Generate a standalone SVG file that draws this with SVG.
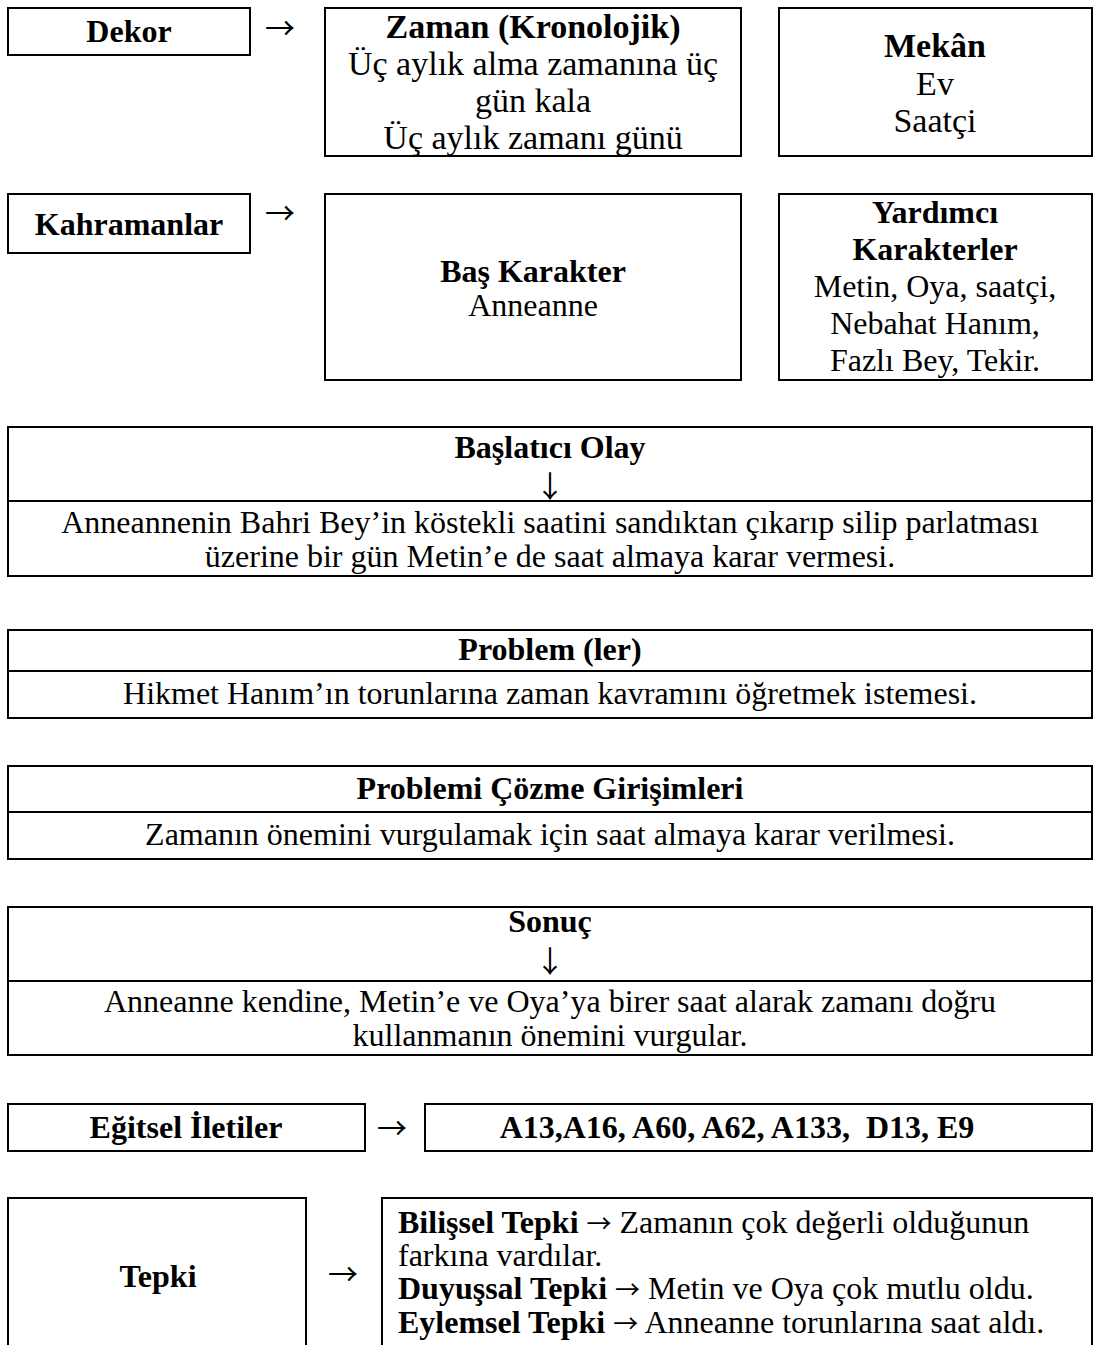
<svg xmlns="http://www.w3.org/2000/svg" width="1094" height="1345" viewBox="0 0 1094 1345">
<style>
  rect, line { fill: #fff; stroke: #000; stroke-width: 2; }
  text { font-family: "Liberation Serif", "Times New Roman", serif; font-size: 32px; fill: #000; }
  .b { font-weight: bold; }
  .c { text-anchor: middle; }
  .big { font-size: 34px; }
  .ar { font-family: "Noto Sans CJK JP", "DejaVu Sans", sans-serif; font-weight: normal; font-size: 30px; }
  .ai { font-family: "Noto Sans CJK JP", "DejaVu Sans", sans-serif; font-weight: normal; font-size: 25px; }
</style>
<rect x="0" y="0" width="1094" height="1345" style="stroke:none;fill:#fff"/>

<g id="dekor">
  <rect x="8" y="8" width="242" height="47"/>
  <text class="b c" x="129" y="42">Dekor</text>
</g>
<g id="zaman">
  <rect x="325" y="8" width="416" height="148"/>
  <text class="b c big" x="533" y="38">Zaman (Kronolojik)</text>
  <text class="c big" x="533" y="75">Üç aylık alma zamanına üç</text>
  <text class="c big" x="533" y="112">gün kala</text>
  <text class="c big" x="533" y="149">Üç aylık zamanı günü</text>
</g>
<g id="mekan">
  <rect x="779" y="8" width="313" height="148"/>
  <text class="b c big" x="935" y="57">Mekân</text>
  <text class="c big" x="935" y="95">Ev</text>
  <text class="c big" x="935" y="132">Saatçi</text>
</g>

<g id="kahramanlar">
  <rect x="8" y="194" width="242" height="59"/>
  <text class="b c" x="129" y="235">Kahramanlar</text>
</g>
<g id="bas-karakter">
  <rect x="325" y="194" width="416" height="186"/>
  <text class="b c" x="533" y="282">Baş Karakter</text>
  <text class="c" x="533" y="316">Anneanne</text>
</g>
<g id="yardimci">
  <rect x="779" y="194" width="313" height="186"/>
  <text class="b c" x="935" y="223">Yardımcı</text>
  <text class="b c" x="935" y="260">Karakterler</text>
  <text class="c" x="935" y="297">Metin, Oya, saatçi,</text>
  <text class="c" x="935" y="334">Nebahat Hanım,</text>
  <text class="c" x="935" y="371">Fazlı Bey, Tekir.</text>
</g>

<g id="baslatici">
  <rect x="8" y="427" width="1084" height="149"/>
  <line x1="8" y1="501" x2="1092" y2="501"/>
  <text class="b c" x="550" y="458">Başlatıcı Olay</text>
  <text class="c ar" x="550" y="497">↓</text>
  <text class="c" x="550" y="533">Anneannenin Bahri Bey’in köstekli saatini sandıktan çıkarıp silip parlatması</text>
  <text class="c" x="550" y="567">üzerine bir gün Metin’e de saat almaya karar vermesi.</text>
</g>

<g id="problem">
  <rect x="8" y="630" width="1084" height="88"/>
  <line x1="8" y1="671" x2="1092" y2="671"/>
  <text class="b c" x="550" y="660">Problem (ler)</text>
  <text class="c" x="550" y="704">Hikmet Hanım’ın torunlarına zaman kavramını öğretmek istemesi.</text>
</g>

<g id="cozme">
  <rect x="8" y="766" width="1084" height="93"/>
  <line x1="8" y1="812" x2="1092" y2="812"/>
  <text class="b c" x="550" y="799">Problemi Çözme Girişimleri</text>
  <text class="c" x="550" y="845">Zamanın önemini vurgulamak için saat almaya karar verilmesi.</text>
</g>

<g id="sonuc">
  <rect x="8" y="907" width="1084" height="148"/>
  <line x1="8" y1="981" x2="1092" y2="981"/>
  <text class="b c" x="550" y="932">Sonuç</text>
  <text class="c ar" x="550" y="972">↓</text>
  <text class="c" x="550" y="1012">Anneanne kendine, Metin’e ve Oya’ya birer saat alarak zamanı doğru</text>
  <text class="c" x="550" y="1046">kullanmanın önemini vurgular.</text>
</g>

<g id="egitsel">
  <rect x="8" y="1104" width="357" height="47"/>
  <text class="b c" x="186" y="1138">Eğitsel İletiler</text>
</g>
<g id="kodlar">
  <rect x="425" y="1104" width="667" height="47"/>
  <text class="b c" x="737" y="1138" xml:space="preserve">A13,A16, A60, A62, A133,  D13, E9</text>
</g>

<g id="tepki">
  <rect x="8" y="1198" width="298" height="170"/>
  <text class="b c" x="158" y="1287">Tepki</text>
</g>
<g id="tepki-detay">
  <rect x="382" y="1198" width="710" height="170"/>
  <text x="398" y="1233"><tspan class="b">Bilişsel Tepki</tspan> <tspan class="ai">→</tspan> Zamanın çok değerli olduğunun</text>
  <text x="398" y="1266">farkına vardılar.</text>
  <text x="398" y="1299"><tspan class="b">Duyuşsal Tepki</tspan> <tspan class="ai">→</tspan> Metin ve Oya çok mutlu oldu.</text>
  <text x="398" y="1333"><tspan class="b">Eylemsel Tepki</tspan> <tspan class="ai">→</tspan> Anneanne torunlarına saat aldı.</text>
</g>

<g id="connectors">
  <text class="c ar" x="280" y="39">→</text>
  <text class="c ar" x="280" y="224">→</text>
  <text class="c ar" x="392" y="1139">→</text>
  <text class="c ar" x="343" y="1285">→</text>
</g>
</svg>
